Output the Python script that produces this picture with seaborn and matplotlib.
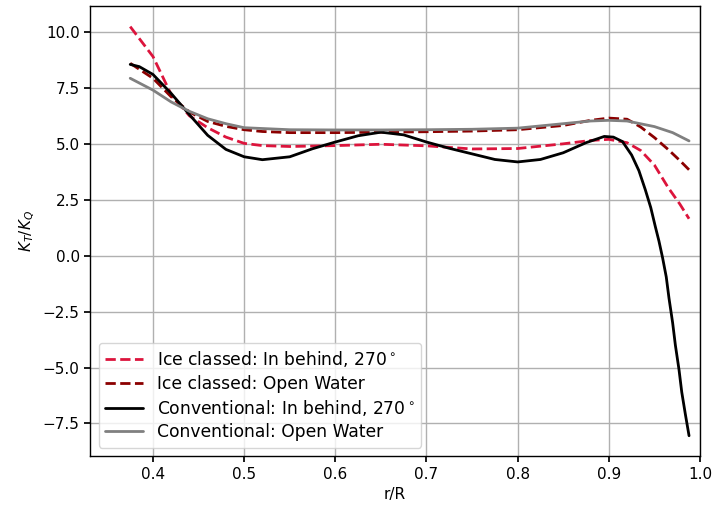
import numpy as np
import pandas as pd
import matplotlib
matplotlib.use("Agg")
import matplotlib.pyplot as plt
import seaborn as sns

x_ic_ib = [0.375, 0.40, 0.42, 0.44, 0.46, 0.48, 0.50, 0.52, 0.55, 0.60, 0.65, 0.70, 0.75,
           0.80, 0.85, 0.88, 0.90, 0.92, 0.935, 0.95, 0.965, 0.978, 0.988]
y_ic_ib = [10.24, 8.9, 7.2, 6.25, 5.72, 5.3, 5.02, 4.92, 4.88, 4.92, 4.98, 4.91, 4.77,
           4.79, 5.0, 5.15, 5.2, 5.05, 4.7, 4.05, 3.05, 2.3, 1.65]

x_ic_ow = [0.375, 0.40, 0.42, 0.44, 0.46, 0.48, 0.50, 0.52, 0.55, 0.60, 0.65, 0.70, 0.75,
           0.80, 0.85, 0.88, 0.90, 0.92, 0.935, 0.95, 0.965, 0.978, 0.988]
y_ic_ow = [8.6, 7.93, 7.1, 6.42, 6.0, 5.78, 5.63, 5.55, 5.5, 5.5, 5.52, 5.54, 5.57,
           5.63, 5.82, 6.05, 6.15, 6.1, 5.75, 5.28, 4.75, 4.25, 3.84]

x_cv_ib = [0.375, 0.385, 0.40, 0.42, 0.44, 0.46, 0.48, 0.50, 0.52, 0.55, 0.575, 0.60, 0.625,
           0.65, 0.675, 0.70, 0.725, 0.75, 0.775, 0.80, 0.825, 0.85, 0.875, 0.895, 0.905,
           0.915, 0.925, 0.933, 0.94, 0.946, 0.951, 0.955, 0.959, 0.963, 0.966, 0.97,
           0.973, 0.977, 0.98, 0.984, 0.988]
y_cv_ib = [8.55, 8.45, 8.1, 7.25, 6.3, 5.38, 4.75, 4.42, 4.29, 4.42, 4.78, 5.08, 5.36,
           5.52, 5.4, 5.08, 4.8, 4.55, 4.3, 4.19, 4.3, 4.6, 5.05, 5.33, 5.3,
           5.1, 4.5, 3.8, 2.95, 2.15, 1.3, 0.65, -0.1, -0.95, -1.9, -3.0,
           -4.0, -5.1, -6.1, -7.1, -8.05]

x_cv_ow = [0.375, 0.40, 0.42, 0.44, 0.46, 0.48, 0.50, 0.55, 0.60, 0.65, 0.70, 0.75, 0.80,
           0.85, 0.88, 0.90, 0.92, 0.95, 0.97, 0.988]
y_cv_ow = [7.93, 7.4, 6.87, 6.45, 6.12, 5.9, 5.72, 5.63, 5.62, 5.62, 5.63, 5.65, 5.7,
           5.9, 6.02, 6.05, 6.02, 5.77, 5.5, 5.13]

labels = ["Ice classed: In behind, 270$^\\circ$", "Ice classed: Open Water",
          "Conventional: In behind, 270$^\\circ$", "Conventional: Open Water"]

sns.set_theme(style="ticks")
plt.rcParams['font.family'] = ['DejaVu Sans']
plt.rcParams['font.size'] = 10
plt.rcParams['text.color'] = 'black'
plt.rcParams['axes.labelcolor'] = 'black'
plt.rcParams['xtick.color'] = 'black'
plt.rcParams['ytick.color'] = 'black'

fig, ax = plt.subplots(figsize=(7.15, 5.12), dpi=100)
fig.subplots_adjust(left=0.126, right=0.979, top=0.988, bottom=0.109)

series = [(x_ic_ib, y_ic_ib, "crimson", "--"),
          (x_ic_ow, y_ic_ow, "darkred", "--"),
          (x_cv_ib, y_cv_ib, "black", "-"),
          (x_cv_ow, y_cv_ow, "gray", "-")]
for (xs, ys, c, ls), lab in zip(series, labels):
    df = pd.DataFrame({"x": xs, "y": ys})
    sns.lineplot(data=df, x="x", y="y", ax=ax, color=c, linestyle=ls, lw=2, label=lab)

ax.set_xlim(0.331, 1.0)
ax.grid(True, color="#b0b0b0", lw=1)
ax.set_xlabel("r/R", fontsize=11, color="black")
ax.set_ylabel("$K_T/K_Q$", fontsize=11, color="black")
ax.tick_params(labelsize=11, direction="out", length=4, color="black", labelcolor="black")
for s in ax.spines.values():
    s.set_color("black")
    s.set_linewidth(1)
leg = ax.legend(loc="lower left", fontsize=12.3, frameon=True, handlelength=2.2,
                labelspacing=0.3)
leg.get_frame().set_edgecolor("#cccccc")
for t in leg.get_texts():
    t.set_color("black")
fig.savefig("out.png", dpi=100, facecolor="white")
